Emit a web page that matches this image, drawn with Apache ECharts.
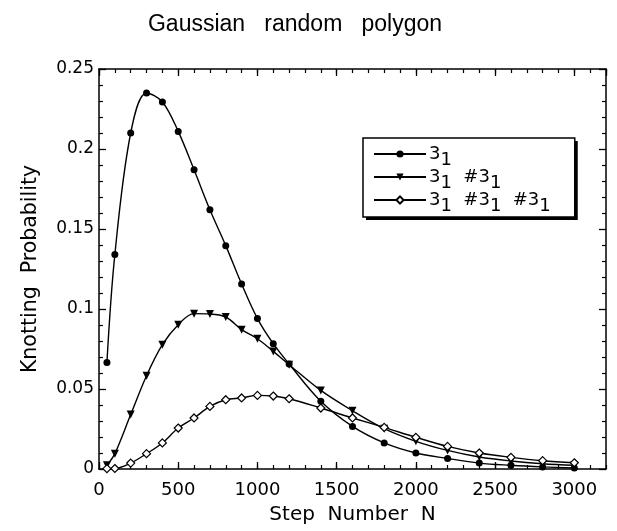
<!DOCTYPE html>
<html>
<head>
<meta charset="utf-8">
<script src="https://cdn.jsdelivr.net/npm/echarts@6/dist/echarts.min.js"></script>
<style>html,body{margin:0;padding:0;background:#fff;}#c{width:617px;height:531px;}</style>
</head>
<body>
<div id="c"></div>
<script>
// ---- data ----
const stepN = [50, 100, 200, 300, 400, 500, 600, 700, 800, 900, 1000, 1100, 1200, 1400, 1600, 1800, 2000, 2200, 2400, 2600, 2800, 3000];
const knot31 = [0.0666, 0.134, 0.210, 0.235, 0.2294, 0.211, 0.187, 0.162, 0.1396, 0.1156, 0.094, 0.0783, 0.0656, 0.0423, 0.0266, 0.0163, 0.010, 0.0066, 0.0037, 0.0023, 0.0013, 0.0006];
const knot31x2 = [0.0023, 0.0096, 0.034, 0.0583, 0.0777, 0.0902, 0.0971, 0.0969, 0.095, 0.0871, 0.0814, 0.0735, 0.0652, 0.0491, 0.0364, 0.0252, 0.0173, 0.0116, 0.0075, 0.005, 0.0033, 0.0023];
const knot31x3 = [0.0002, 0.0003, 0.0037, 0.0096, 0.0163, 0.0256, 0.0319, 0.0391, 0.0433, 0.0444, 0.046, 0.0456, 0.0439, 0.0381, 0.0319, 0.026, 0.0198, 0.0141, 0.010, 0.0073, 0.0052, 0.0039];
const seriesNames = ['3_1', '3_1 #3_1', '3_1 #3_1 #3_1'];
const legendRich = ['{n|3}{s|1}', '{n|3}{s|1}{n|  #3}{s|1}', '{n|3}{s|1}{n|  #3}{s|1}{n|  #3}{s|1}'];
const titleText = 'Gaussian   random   polygon';
const xName = 'Step  Number  N';
const yName = 'Knotting  Probability';

const chart = echarts.init(document.getElementById('c'), null, {renderer: 'canvas'});
const LAB = 'DejaVu Sans';
const pair = (ys) => stepN.map((x, i) => [x, ys[i]]);
const lineStyle = {color: '#000', width: 1.4};
const baseX = {type: 'value', min: 0, max: 3200, splitLine: {show: false}, gridIndex: 0};
const hiddenLbl = {show: false};

function makeLegend(left, top, bg, border, z) {
  return {
    orient: 'vertical', left: left, top: top, z: z,
    padding: [7, 24, 2, 10], itemGap: -1,
    itemWidth: 52, itemHeight: 9,
    backgroundColor: bg, borderColor: '#000', borderWidth: border, borderRadius: 0,
    selectedMode: false,
    data: seriesNames,
    formatter: (name) => legendRich[seriesNames.indexOf(name)],
    textStyle: {
      fontFamily: LAB, fontSize: 18, color: '#000', padding: [0, 0, 0, -2],
      rich: {
        n: {fontFamily: LAB, fontSize: 18, color: '#000'},
        s: {fontFamily: LAB, fontSize: 18, color: '#000', padding: [12, 0, 0, 0]}
      }
    }
  };
}

const option = {
  backgroundColor: '#fff',
  animation: false,
  title: {
    text: titleText, left: 290, top: 8, textAlign: 'center',
    textStyle: {fontFamily: 'Liberation Sans', fontSize: 23, fontWeight: 'normal', color: '#000'}
  },
  grid: {left: 99, right: 11, top: 69, bottom: 62, containLabel: false},
  legend: [
    makeLegend(366, 141, '#000', 0, 4),
    makeLegend(363, 138, '#fff', 1.5, 5)
  ],
  xAxis: [
    Object.assign({}, baseX, {
      position: 'bottom', interval: 500,
      name: xName, nameLocation: 'middle', nameGap: 36,
      nameTextStyle: {fontFamily: LAB, fontSize: 20, color: '#000'},
      axisLine: {show: true, onZero: false, lineStyle: {color: '#000', width: 1.5}},
      axisTick: {show: true, inside: true, length: 7, lineStyle: {color: '#000', width: 1.3}},
      axisLabel: {show: true, showMaxLabel: false, margin: 12, fontFamily: LAB, fontSize: 18, color: '#000',
        formatter: (v) => String(v)}
    }),
    Object.assign({}, baseX, {
      position: 'bottom', interval: 100,
      axisLine: {show: false, onZero: false},
      axisTick: {show: true, inside: true, length: 4, lineStyle: {color: '#000', width: 1.2}},
      axisLabel: hiddenLbl
    }),
    Object.assign({}, baseX, {
      position: 'top', interval: 500,
      axisLine: {show: true, onZero: false, lineStyle: {color: '#000', width: 1.5}},
      axisTick: {show: true, inside: true, length: 7, lineStyle: {color: '#000', width: 1.3}},
      axisLabel: hiddenLbl
    }),
    Object.assign({}, baseX, {
      position: 'top', interval: 100,
      axisLine: {show: false, onZero: false},
      axisTick: {show: true, inside: true, length: 4, lineStyle: {color: '#000', width: 1.2}},
      axisLabel: hiddenLbl
    })
  ],
  yAxis: [
    {
      type: 'value', position: 'left', min: 0, max: 0.25, interval: 0.05,
      name: yName, nameLocation: 'middle', nameGap: 58, nameRotate: 90,
      nameTextStyle: {fontFamily: LAB, fontSize: 20.5, color: '#000'},
      splitLine: {show: false},
      axisLine: {show: true, onZero: false, lineStyle: {color: '#000', width: 1.5}},
      axisTick: {show: true, inside: true, length: 7, lineStyle: {color: '#000', width: 1.3}},
      minorTick: {show: true, splitNumber: 5, length: 4, lineStyle: {color: '#000', width: 1.2}},
      axisLabel: {show: true, margin: 5, fontFamily: LAB, fontSize: 17, color: '#000',
        formatter: (v) => String(+v.toFixed(2))}
    },
    {
      type: 'value', position: 'right', min: 0, max: 0.25, interval: 0.05,
      splitLine: {show: false},
      axisLine: {show: true, onZero: false, lineStyle: {color: '#000', width: 1.5}},
      axisTick: {show: true, inside: true, length: 7, lineStyle: {color: '#000', width: 1.3}},
      minorTick: {show: true, splitNumber: 5, length: 4, lineStyle: {color: '#000', width: 1.2}},
      axisLabel: hiddenLbl
    }
  ],
  series: [
    {
      name: seriesNames[0], type: 'line', xAxisIndex: 0, yAxisIndex: 0,
      data: pair(knot31), smooth: 0.35,
      symbol: 'circle', symbolSize: 7,
      lineStyle: lineStyle,
      itemStyle: {color: '#000', borderColor: '#000', borderWidth: 0}
    },
    {
      name: seriesNames[1], type: 'line', xAxisIndex: 0, yAxisIndex: 0,
      data: pair(knot31x2), smooth: 0.35,
      symbol: 'triangle', symbolRotate: 180, symbolSize: 8,
      lineStyle: lineStyle,
      itemStyle: {color: '#000', borderColor: '#000', borderWidth: 0}
    },
    {
      name: seriesNames[2], type: 'line', xAxisIndex: 0, yAxisIndex: 0,
      data: pair(knot31x3), smooth: 0.35,
      symbol: 'diamond', symbolSize: 8,
      lineStyle: lineStyle,
      itemStyle: {color: '#fff', borderColor: '#000', borderWidth: 1.2}
    }
  ]
};
chart.setOption(option);
</script>
</body>
</html>
